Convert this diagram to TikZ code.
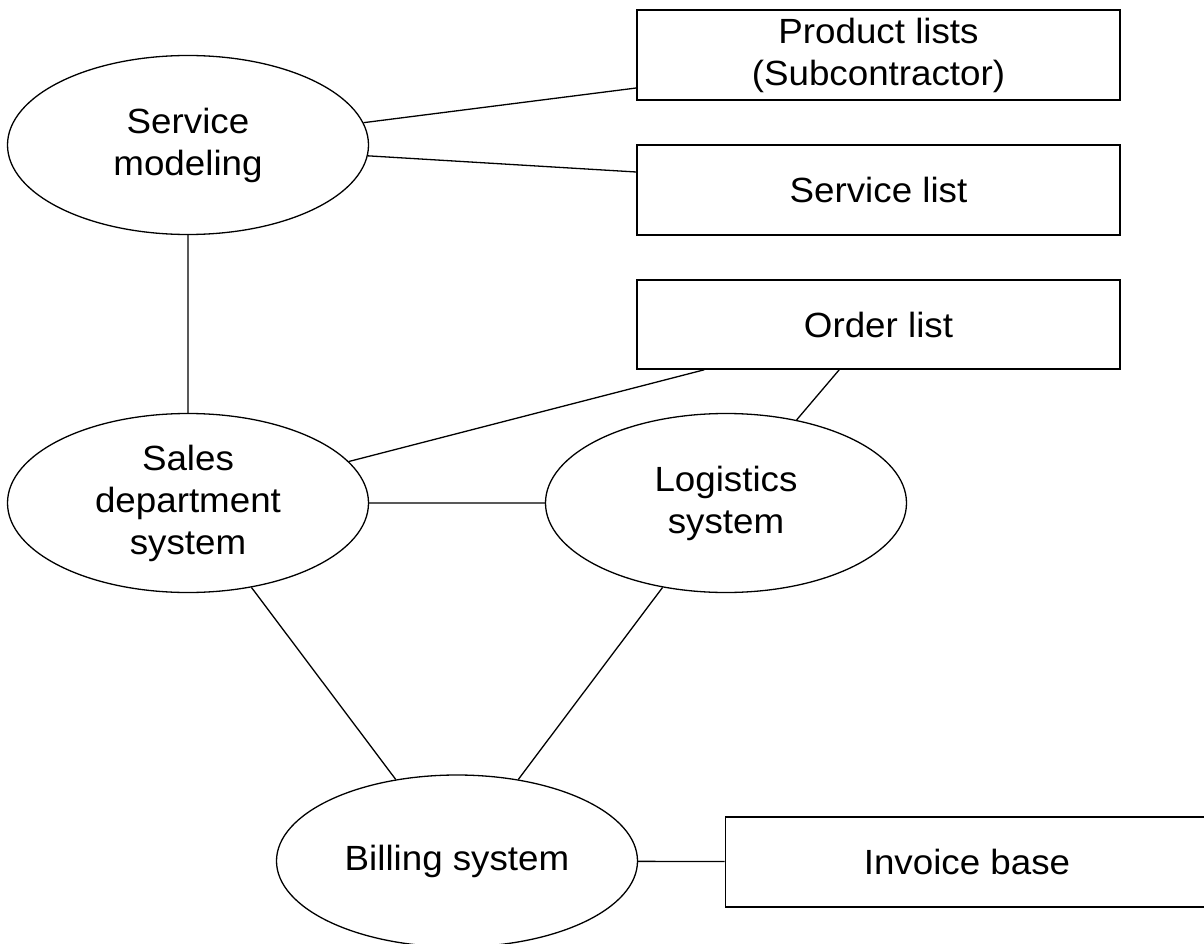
\documentclass[tikz,border=0pt]{standalone}
\usepackage{fontspec}
\setmainfont{Liberation Sans}[FakeStretch=1.05]
\usetikzlibrary{shapes.geometric}

\begin{document}
\begin{tikzpicture}[x=1pt,y=-1pt,line width=1.3pt,
    font=\fontsize{35}{42}\selectfont,
    system/.style={draw,ellipse,inner sep=0pt,align=center,
      minimum width=361pt,minimum height=179pt},
    store/.style={draw,rectangle,line width=1.6pt,inner sep=0pt,align=center,
      minimum width=483pt,minimum height=90pt}]
    \useasboundingbox (0,0) rectangle (1204,944);
    % systems
    \node[system] (model) at (188,145) {Service\\modeling};
    \node[system] (sales) at (188,503) {Sales\\department\\system};
    \node[system] (logist) at (726,503) {Logistics\\system};
    \node[system,minimum height=172pt] (bill) at (457,861) {Billing system};
    % data stores
    \node[store] (prod) at (878.5,55) {Product lists\\(Subcontractor)};
    \node[store] (svc) at (878.5,190) {Service list};
    \node[store,minimum height=89pt] (order) at (878.5,324.5) {Order list};
    \node[store] (invoice) at (967,862) {Invoice base};
    % links
    \draw (model) -- ([yshift=-33pt]prod.west)
    (model) -- ([yshift=18pt]svc.west)
    (model) -- (sales);
    \draw (sales) -- ([xshift=68pt]order.south west)
    (logist) -- ([xshift=203pt]order.south west)
    (sales) -- (logist);
    \draw (sales) -- (bill)
    (logist) -- (bill)
    (bill) -- (invoice);
\end{tikzpicture}
\end{document}
